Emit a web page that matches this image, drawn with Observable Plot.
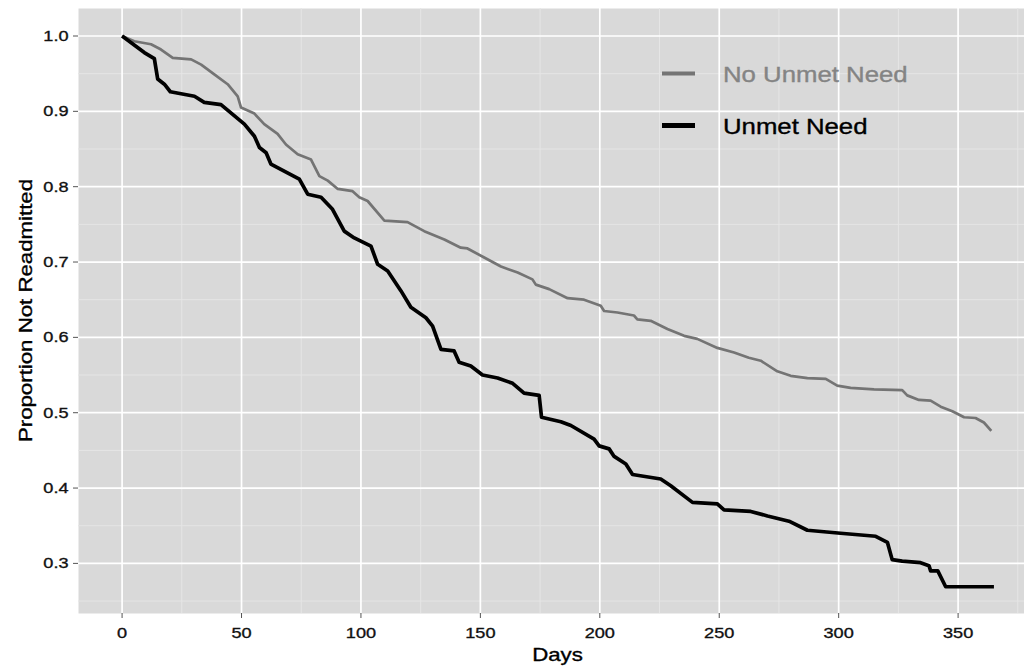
<!DOCTYPE html>
<html>
<head>
<meta charset="utf-8">
<script src="https://cdn.jsdelivr.net/npm/d3@7"></script>
<script src="https://cdn.jsdelivr.net/npm/@observablehq/plot@0.6"></script>
<style>
  html, body { margin: 0; padding: 0; background: #ffffff; overflow: hidden; }
</style>
</head>
<body>
<div id="chart"></div>
<script>
// ---- data ----
const seriesNames = ["No Unmet Need", "Unmet Need"];

const noUnmetDays = [0, 5.1, 12.1, 16.3, 21.2, 28.9, 33.1, 38.6, 44.2, 48.4, 49.8, 55.4, 59.5, 65.1, 68.6, 73.5, 79.1, 82.6, 86.1, 90.3, 96.5, 99.3, 102.8, 109.8, 119.5, 126.5, 134.9, 141.8, 144.6, 151.6, 158.6, 165.6, 171.8, 173.2, 178.8, 186.5, 193.4, 200.4, 201.8, 207.4, 214.3, 215.7, 221.3, 228.3, 235.3, 240.8, 249.2, 256.2, 262.4, 267.4, 274.3, 279.9, 286.9, 294.6, 299.4, 305, 314.8, 326.6, 328.7, 333.6, 338.5, 342.7, 347.6, 352.5, 357.3, 360.8, 363.9];
const noUnmetProp = [1.0, 0.993, 0.989, 0.982, 0.971, 0.969, 0.962, 0.949, 0.936, 0.920, 0.905, 0.897, 0.883, 0.870, 0.856, 0.843, 0.836, 0.814, 0.808, 0.797, 0.794, 0.786, 0.781, 0.755, 0.753, 0.741, 0.730, 0.719, 0.718, 0.706, 0.694, 0.686, 0.677, 0.670, 0.664, 0.652, 0.650, 0.642, 0.635, 0.633, 0.629, 0.624, 0.622, 0.611, 0.602, 0.598, 0.586, 0.580, 0.573, 0.569, 0.555, 0.549, 0.546, 0.545, 0.536, 0.533, 0.531, 0.530, 0.523, 0.517, 0.516, 0.508, 0.502, 0.494, 0.493, 0.487, 0.476];

const unmetDays = [0, 9.3, 13.5, 14.9, 17.7, 20.2, 30.3, 34.4, 41.4, 51.2, 55.4, 57.5, 60.3, 62.3, 74.2, 77.7, 83.3, 88.1, 93, 97.2, 104.2, 107, 111.2, 116.7, 120.9, 127.2, 130, 133.5, 139, 141.1, 146, 150.9, 157.2, 163.5, 168.3, 174.6, 175.6, 183.7, 187.9, 197.6, 199.7, 203.9, 206, 210.9, 213.7, 225.5, 229.7, 238.8, 249.2, 252, 263.2, 270.2, 279.2, 286.9, 300.8, 315.5, 320.4, 322.4, 326.6, 334.3, 337.8, 338.5, 341.5, 344.8, 365];
const unmetProp = [1.0, 0.978, 0.970, 0.943, 0.936, 0.926, 0.920, 0.912, 0.909, 0.883, 0.867, 0.852, 0.845, 0.830, 0.810, 0.790, 0.786, 0.770, 0.741, 0.732, 0.721, 0.697, 0.688, 0.662, 0.640, 0.626, 0.615, 0.584, 0.582, 0.567, 0.562, 0.550, 0.546, 0.539, 0.526, 0.523, 0.494, 0.488, 0.483, 0.465, 0.456, 0.452, 0.442, 0.432, 0.418, 0.412, 0.403, 0.381, 0.379, 0.371, 0.369, 0.363, 0.356, 0.344, 0.340, 0.336, 0.328, 0.305, 0.303, 0.301, 0.297, 0.290, 0.290, 0.269, 0.269];

const xTicks = [0, 50, 100, 150, 200, 250, 300, 350];
const xMinor = [25, 75, 125, 175, 225, 275, 325, 375];
const yTicks = [0.3, 0.4, 0.5, 0.6, 0.7, 0.8, 0.9, 1.0];
const yMinor = [0.25, 0.35, 0.45, 0.55, 0.65, 0.75, 0.85, 0.95];

const xTitle = "Days";
const yTitle = "Proportion Not Readmitted";

// ---- table for the library ----
const rows = [
  ...noUnmetDays.map((d, i) => ({series: seriesNames[0], day: d, prop: noUnmetProp[i]})),
  ...unmetDays.map((d, i) => ({series: seriesNames[1], day: d, prop: unmetProp[i]}))
];

const colorOf = {"No Unmet Need": "#747474", "Unmet Need": "#000000"};
const widthOf = {"No Unmet Need": 2.7, "Unmet Need": 3.7};
const font = "'Liberation Sans', Arial, Helvetica, sans-serif";

const plot = Plot.plot({
  width: 1024,
  height: 668,
  marginLeft: 78,
  marginRight: 0,
  marginTop: 8,
  marginBottom: 55,
  style: {fontFamily: font, fontSize: "15px", color: "#111111", background: "#ffffff"},
  x: {domain: [-18.25, 377.8]},
  y: {domain: [0.2335, 1.0365]},
  marks: [
    Plot.frame({fill: "#d9d9d9", stroke: "none"}),
    Plot.gridX(xMinor, {stroke: "#e5e5e5", strokeOpacity: 1, strokeWidth: 1}),
    Plot.gridY(yMinor, {stroke: "#e5e5e5", strokeOpacity: 1, strokeWidth: 1}),
    Plot.gridX(xTicks, {stroke: "#ffffff", strokeOpacity: 1, strokeWidth: 1.7}),
    Plot.gridY(yTicks, {stroke: "#ffffff", strokeOpacity: 1, strokeWidth: 1.7}),
    Plot.axisX(xTicks, {tickSize: 5, tickPadding: 8, stroke: "#555555", fill: "#111111", fontSize: 15.5, label: null}),
    Plot.axisY(yTicks, {tickSize: 5, tickPadding: 5, stroke: "#555555", fill: "#111111", fontSize: 15.5, label: null, tickFormat: d3.format(".1f")}),
    ...seriesNames.map(s => Plot.line(rows.filter(r => r.series === s), {
      x: "day", y: "prop", stroke: colorOf[s], strokeWidth: widthOf[s], strokeLinejoin: "round", strokeLinecap: "butt"
    }))
  ]
});

document.getElementById("chart").append(plot);

const svg = d3.select(plot);
const xs = plot.scale("x"), ys = plot.scale("y");

// axis titles (centred on the panel, which in the source extends slightly past the right edge)
const panelCx = (xs.apply(-18.25) + xs.apply(383.25)) / 2;
const panelCy = (ys.apply(0.2335) + ys.apply(1.0365)) / 2;
svg.append("text")
  .attr("x", panelCx).attr("y", 661)
  .attr("text-anchor", "middle")
  .attr("fill", "#000").attr("font-size", 19)
  .text(xTitle);
svg.append("text")
  .attr("transform", `translate(32,${panelCy}) rotate(-90)`)
  .attr("text-anchor", "middle")
  .attr("fill", "#000").attr("font-size", 19)
  .text(yTitle);

// legend inside the panel
const legend = svg.append("g");
const legendItems = [
  {name: seriesNames[0], y: 73.5, text: "#848484", key: 4},
  {name: seriesNames[1], y: 125.5, text: "#000000", key: 5}
];
legendItems.forEach(it => {
  legend.append("line")
    .attr("x1", 662).attr("x2", 695).attr("y1", it.y).attr("y2", it.y)
    .attr("stroke", colorOf[it.name]).attr("stroke-width", it.key);
  legend.append("text")
    .attr("x", 723).attr("y", it.y + 8)
    .attr("text-anchor", "start")
    .attr("fill", it.text).attr("font-size", 22)
    .text(it.name);
});

// the source's lettering is horizontally stretched (~1.17x) and slightly heavier
svg.selectAll("text").each(function () {
  const w = this.getComputedTextLength();
  if (w > 0) {
    this.setAttribute("textLength", (w * 1.17).toFixed(1));
    this.setAttribute("lengthAdjust", "spacingAndGlyphs");
    const f = window.getComputedStyle(this).fill;
    this.setAttribute("stroke", f);
    this.setAttribute("stroke-width", "0.35");
  }
});
</script>
</body>
</html>
